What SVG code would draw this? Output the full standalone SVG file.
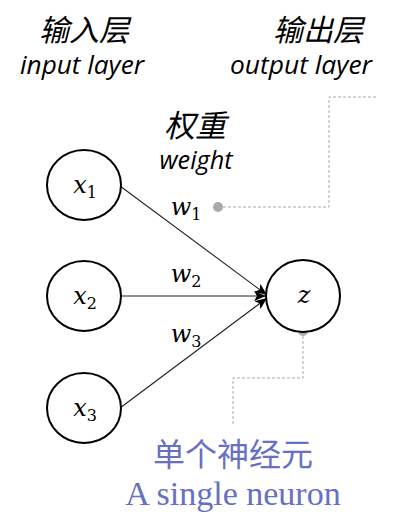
<svg xmlns="http://www.w3.org/2000/svg" width="406" height="519" viewBox="0 0 406 519">
<style>
.node{fill:#fff;stroke:#000;stroke-width:2}
.edge{stroke:#222;stroke-width:1.1;fill:none}
.lead{stroke:#aaa;stroke-width:1;stroke-dasharray:3,2;fill:none}
.dot{fill:#aaa}
.zh{font-family:"Noto Sans CJK SC",sans-serif;font-style:italic;font-size:30px;fill:#000;text-anchor:middle}
.en{font-family:"Open Sans","Noto Sans",sans-serif;font-style:italic;font-size:25px;fill:#000;text-anchor:middle}
.math{font-family:"DejaVu Serif","Liberation Serif",serif;font-style:italic;font-size:24px;fill:#000;text-anchor:middle}
.sub{font-family:"DejaVu Serif","Liberation Serif",serif;font-style:normal;font-size:16px}
.note{fill:#6670c4;text-anchor:middle}
</style>
<defs>
<marker id="arr" viewBox="0 0 12 10" refX="12" refY="5" markerWidth="12" markerHeight="10" markerUnits="userSpaceOnUse" orient="auto">
<path d="M0,0 L12,5 L0,10 L3,5 Z" fill="#000"/>
</marker>
</defs>
<g id="labels">
<text class="zh" x="84" y="41">输入层</text>
<text class="en" x="82" y="74" textLength="124" lengthAdjust="spacingAndGlyphs">input layer</text>
<text class="zh" x="318" y="41">输出层</text>
<text class="en" x="301" y="74" textLength="142" lengthAdjust="spacingAndGlyphs">output layer</text>
<text class="zh" x="195" y="137" style="font-size:31px">权重</text>
<text class="en" x="196" y="169" textLength="73" lengthAdjust="spacingAndGlyphs">weight</text>
</g>
<g id="connectors">
<line class="edge" x1="120" y1="186" x2="267" y2="295" marker-end="url(#arr)"/>
<line class="edge" x1="121" y1="296" x2="266" y2="296" marker-end="url(#arr)"/>
<line class="edge" x1="120" y1="408" x2="267" y2="298" marker-end="url(#arr)"/>
<polyline class="lead" points="218,207 329,207 329,97 378,97"/>
<polyline class="lead" points="303,331 303,378 233,378 233,425"/>
<circle class="dot" cx="218" cy="207" r="5"/>
<circle class="dot" cx="303" cy="331" r="5"/>
</g>
<g id="x1">
<ellipse class="node" cx="84" cy="185" rx="37" ry="35"/>
<text class="math" x="85" y="193">x<tspan class="sub" dy="5">1</tspan></text>
</g>
<g id="x2">
<ellipse class="node" cx="84" cy="296" rx="37" ry="35"/>
<text class="math" x="85" y="304">x<tspan class="sub" dy="5">2</tspan></text>
</g>
<g id="x3">
<ellipse class="node" cx="84" cy="408" rx="37" ry="35"/>
<text class="math" x="85" y="416">x<tspan class="sub" dy="5">3</tspan></text>
</g>
<g id="z">
<ellipse class="node" cx="303" cy="296" rx="37" ry="36"/>
<text class="math" x="304" y="303">z</text>
</g>
<g id="weights">
<text class="math" x="186" y="215">w<tspan class="sub" dy="5">1</tspan></text>
<text class="math" x="186" y="282">w<tspan class="sub" dy="5">2</tspan></text>
<text class="math" x="186" y="342">w<tspan class="sub" dy="5">3</tspan></text>
</g>
<g id="caption">
<text class="note" x="233" y="466" style="font-family:'Noto Sans CJK SC',sans-serif;font-size:32px">单个神经元</text>
<text class="note" x="233" y="505" style="font-family:'Liberation Serif',serif;font-size:34px">A single neuron</text>
</g>
</svg>
